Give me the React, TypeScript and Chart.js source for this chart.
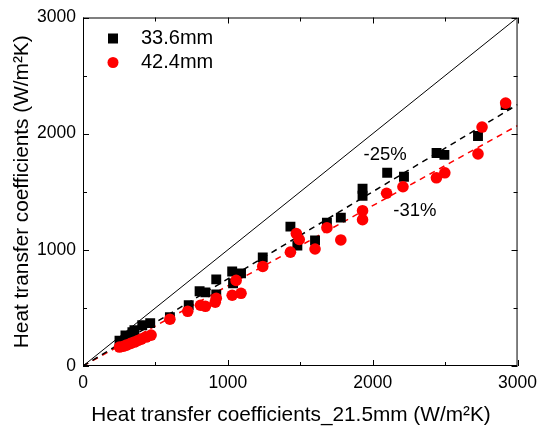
import React, { useEffect, useRef } from "react";
import { Chart, registerables } from "chart.js";
Chart.register(...registerables);

const FONT = "'Liberation Sans', Arial, sans-serif";

const xTitle = "Heat transfer coefficients_21.5mm (W/m²K)";
const yTitle = "Heat transfer coefficients (W/m²K)";
const labels = ["33.6mm", "42.4mm"];
const annotations = ["-25%", "-31%"];

const s336X = [252, 293, 341, 355, 409, 464, 600, 730, 805, 845, 920, 920, 1030, 1036, 1091, 1241, 1432, 1480, 1602, 1684, 1780, 1930, 1930, 2100, 2216, 2441, 2495, 2727, 2918];
const s336Y = [218, 262, 291, 309, 351, 369, 420, 523, 643, 634, 746, 615, 814, 711, 797, 934, 1200, 1037, 1080, 1234, 1277, 1466, 1526, 1663, 1629, 1834, 1817, 1980, 2246];

const s424X = [252, 280, 300, 330, 355, 380, 402, 436, 470, 600, 723, 811, 845, 913, 920, 1030, 1057, 1091, 1241, 1432, 1473, 1493, 1602, 1684, 1780, 1930, 1930, 2096, 2209, 2440, 2498, 2727, 2755, 2918];
const s424Y = [163, 170, 180, 195, 206, 220, 231, 249, 266, 403, 471, 523, 514, 549, 583, 609, 737, 626, 857, 980, 1140, 1089, 1007, 1190, 1085, 1260, 1337, 1487, 1543, 1620, 1663, 1826, 2057, 2263];

const diagX = [0, 3000];
const diagY = [0, 3000];
const fit25X = [0, 3000];
const fit25Y = [0, 2250];
const fit31X = [0, 3000];
const fit31Y = [0, 2070];

const annX = [2086, 2291];
const annY = [1817, 1337];

const toPts = (xs: number[], ys: number[]) => xs.map((x, i) => ({ x, y: ys[i] }));

const framePlugin = {
  id: "frameTicks",
  afterDraw(chart: any) {
    const { ctx, chartArea: a, scales } = chart;
    const xs = scales.x;
    const ys = scales.y;
    ctx.save();
    ctx.strokeStyle = "#000";
    ctx.lineWidth = 1;
    ctx.strokeRect(a.left + 0.5, a.top + 0.5, a.right - a.left - 1, a.bottom - a.top - 1);
    ctx.beginPath();
    for (let v = 0; v <= 3000; v += 500) {
      const len = v % 1000 === 0 ? 6 : 4;
      const px = Math.round(xs.getPixelForValue(v)) + 0.5;
      ctx.moveTo(px, a.bottom);
      ctx.lineTo(px, a.bottom - len);
      ctx.moveTo(px, a.top);
      ctx.lineTo(px, a.top + len);
      const py = Math.round(ys.getPixelForValue(v)) + 0.5;
      ctx.moveTo(a.left, py);
      ctx.lineTo(a.left + len, py);
      ctx.moveTo(a.right, py);
      ctx.lineTo(a.right - len, py);
    }
    ctx.stroke();

    // annotations
    ctx.fillStyle = "#000";
    ctx.font = `18.5px ${FONT}`;
    ctx.textAlign = "center";
    ctx.textBaseline = "middle";
    annotations.forEach((t, i) => {
      ctx.fillText(t, xs.getPixelForValue(annX[i]), ys.getPixelForValue(annY[i]));
    });

    // legend
    ctx.font = `20px ${FONT}`;
    ctx.textAlign = "left";
    const lx = a.left + 30;
    const ly0 = a.top + 21;
    ctx.fillStyle = "#000";
    ctx.fillRect(lx - 5, ly0 - 5, 10, 10);
    ctx.fillText(labels[0], lx + 28, ly0);
    ctx.fillStyle = "#ff0000";
    ctx.beginPath();
    ctx.arc(lx, ly0 + 24, 5.5, 0, Math.PI * 2);
    ctx.fill();
    ctx.fillStyle = "#000";
    ctx.fillText(labels[1], lx + 28, ly0 + 24);

    // axis titles
    ctx.font = `20.8px ${FONT}`;
    ctx.textAlign = "center";
    ctx.fillText(xTitle, 291, 415);
    ctx.save();
    ctx.translate(22, (a.top + a.bottom) / 2);
    ctx.rotate(-Math.PI / 2);
    ctx.fillText(yTitle, 0, 0);
    ctx.restore();
    ctx.restore();
  },
};

export default function App() {
  const ref = useRef<HTMLCanvasElement>(null);
  useEffect(() => {
    if (!ref.current) return;
    const tickFont = { size: 17.5, family: FONT };
    const chart = new Chart(ref.current, {
      type: "scatter",
      data: {
        datasets: [
          {
            label: labels[1],
            data: toPts(s424X, s424Y),
            pointStyle: "circle",
            pointRadius: 5.8,
            backgroundColor: "#ff0000",
            borderColor: "#ff0000",
            borderWidth: 0,
            order: 1,
          },
          {
            label: labels[0],
            data: toPts(s336X, s336Y),
            pointStyle: "rect",
            pointRadius: 7,
            backgroundColor: "#000",
            borderColor: "#000",
            borderWidth: 0,
            order: 2,
          },
          {
            label: "y=x",
            type: "line",
            data: toPts(diagX, diagY),
            borderColor: "#000",
            borderWidth: 1,
            pointRadius: 0,
            order: 3,
          },
          {
            label: "fit 33.6",
            type: "line",
            data: toPts(fit25X, fit25Y),
            borderColor: "#000",
            borderWidth: 1.5,
            borderDash: [6, 5],
            pointRadius: 0,
            order: 4,
          },
          {
            label: "fit 42.4",
            type: "line",
            data: toPts(fit31X, fit31Y),
            borderColor: "#ff0000",
            borderWidth: 1.5,
            borderDash: [6, 5],
            pointRadius: 0,
            order: 5,
          },
        ],
      },
      options: {
        animation: false,
        responsive: false,
        maintainAspectRatio: false,
        layout: { padding: { top: 16, right: 21, left: 0, bottom: 0 } },
        plugins: { legend: { display: false }, tooltip: { enabled: false } },
        scales: {
          x: {
            type: "linear",
            min: 0,
            max: 3000,
            grid: { display: false, drawTicks: false },
            border: { display: false },
            ticks: { stepSize: 1000, padding: 7, color: "#000", font: tickFont, callback: (v: any) => String(v) },
            afterFit: (s: any) => { s.height = 67; },
          },
          y: {
            type: "linear",
            min: 0,
            max: 3000,
            grid: { display: false, drawTicks: false },
            border: { display: false },
            ticks: { stepSize: 1000, padding: 7, color: "#000", font: tickFont, callback: (v: any) => String(v) },
            afterFit: (s: any) => { s.width = 83; },
          },
        },
      },
      plugins: [framePlugin],
    } as any);
    return () => chart.destroy();
  }, []);
  return (
    <div style={{ position: "fixed", left: 0, top: 0, width: 544, height: 433, background: "#fff" }}>
      <canvas ref={ref} width={544} height={433} style={{ width: 544, height: 433 }} />
    </div>
  );
}
